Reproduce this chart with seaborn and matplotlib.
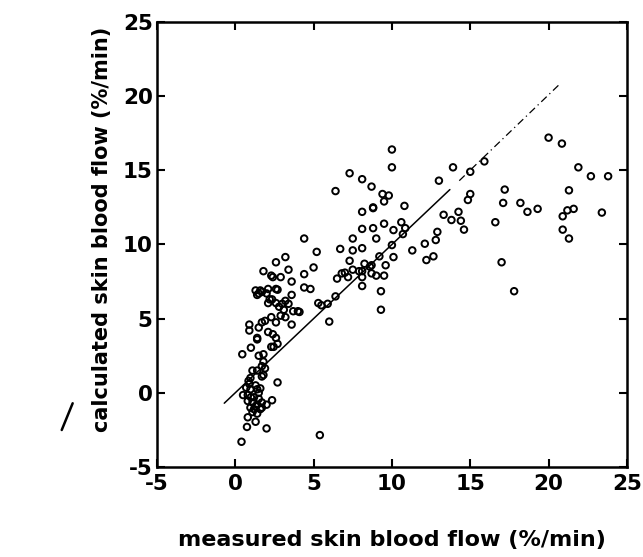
import matplotlib
matplotlib.use("Agg")
import matplotlib.pyplot as plt
import seaborn as sns
import pandas as pd
from matplotlib.lines import Line2D

# ---- data ----
measured = [
    # x > 15 region
    15.9, 20.0, 20.85, 21.9, 22.7, 23.8, 21.3, 17.2, 17.1, 18.2, 18.65, 19.3, 20.9, 21.2, 21.6, 23.4,
    16.6, 20.9, 21.3, 17.0, 17.8,
    # 10-15 region
    15.0, 15.0, 14.85, 13.0, 13.9, 13.3, 14.25, 13.8, 14.4, 14.6, 12.9, 12.8, 12.1, 12.2, 12.65,
    11.3, 10.8, 10.6, 10.85, 10.7, 10.1, 10.0, 10.1, 10.0, 10.0,
    # 5-10 region
    9.8, 9.4, 9.5, 9.5, 8.8, 8.8, 9.0, 9.2, 9.6, 8.7, 8.7, 9.0, 9.5, 9.3, 9.3,
    8.7, 8.1, 8.1, 8.1, 8.1, 8.25, 8.1, 8.1, 8.6, 7.3, 7.5, 7.5, 8.1, 6.7, 7.3, 7.5, 7.2,
    6.8, 6.5, 6.4, 6.4, 6.0, 5.9, 5.5, 5.3, 4.4, 5.2, 5.0, 4.4, 4.4, 4.8, 5.4, 7.9, 7.0, 8.8,
    # 0-5 region
    3.2, 2.6, 3.4, 2.9, 3.6, 1.8, 2.3, 2.4, 2.1, 1.7, 1.3, 1.5, 2.0, 2.6, 2.7, 2.35, 2.1, 2.6,
    3.2, 3.6, 3.4, 3.1, 3.7, 4.0, 4.1, 2.9, 3.2, 3.6, 2.3, 1.9, 1.7, 2.6, 0.9, 0.9, 1.5, 1.4,
    2.1, 2.4, 2.6, 2.45, 2.7, 0.45, 1.0, 1.4, 2.3, 1.5, 1.8, 1.8, 1.7, 1.9, 1.8, 1.4, 1.1,
    0.97, 0.85, 2.7, 0.7, 0.97, 1.4, 0.5, 0.8, 1.5, 0.8, 1.1, 1.4, 1.7, 2.0, 2.35, 0.97, 1.2,
    1.6, 0.8, 1.3, 0.75, 2.0, 0.4, 1.2, 1.3, 1.0, 1.5, 1.7, 0.9, 1.1, 1.4, 1.6, 1.3, 1.4, 1.6,
    2.2, 2.8, 3.0, 1.7,
]
calculated = [
    15.6, 17.2, 16.8, 15.2, 14.6, 14.6, 13.65, 13.7, 12.8, 12.8, 12.2, 12.4, 11.9, 12.3, 12.4, 12.15,
    11.5, 11.0, 10.4, 8.8, 6.85,
    14.9, 13.4, 13.0, 14.3, 15.2, 12.0, 12.2, 11.65, 11.6, 11.0, 10.85, 10.3, 10.05, 8.95, 9.2,
    9.6, 12.6, 11.5, 11.1, 10.7, 10.97, 9.96, 9.15, 16.4, 15.2,
    13.3, 13.4, 12.9, 11.4, 12.45, 11.1, 10.4, 9.2, 8.6, 8.6, 8.05, 7.9, 7.9, 6.85, 5.6,
    13.9, 14.4, 12.2, 11.05, 9.75, 8.7, 7.8, 7.2, 8.5, 14.8, 10.4, 9.6, 8.2, 9.7, 8.9, 8.3, 7.8,
    8.05, 7.7, 6.5, 13.6, 4.8, 6.0, 5.9, 6.05, 10.4, 9.5, 8.45, 8.0, 7.1, 7.0, -2.85, 8.2, 8.1, 12.5,
    9.15, 8.8, 8.3, 7.8, 7.5, 8.2, 7.9, 7.8, 7.0, 6.8, 6.9, 6.7, 6.7, 7.0, 6.95, 6.3, 6.05, 6.05,
    6.2, 6.6, 6.0, 5.6, 5.5, 5.5, 5.45, 5.2, 5.1, 4.6, 5.1, 4.85, 4.75, 4.75, 4.6, 4.2, 4.4, 3.7,
    4.1, 3.95, 3.7, 3.1, 3.3, 2.6, 3.04, 3.6, 3.1, 2.5, 2.6, 2.1, 1.8, 1.65, 1.2, 1.5, 1.5,
    1.0, 0.8, 0.7, 0.35, 0.24, 0.24, -0.15, -0.15, 0.0, -0.55, -0.65, -0.8, -0.65, -0.8, -0.5, -1.0, -1.1,
    -1.1, -1.65, -1.95, -2.3, -2.4, -3.3, -0.3, 0.5, -0.3, -0.4, -1.0, 0.6, -1.3, -1.4, 0.3, -0.9, 6.6, 6.9,
    6.3, 5.8, 6.0, 1.1,
]

# identity (regression) line, drawn in a solid and a broken part
line_solid_x = [-0.7, 13.7]
line_solid_y = [-0.7, 13.7]
line_dash_x = [14.3, 20.7]
line_dash_y = [14.3, 20.8]

x_ticks = [-5, 0, 5, 10, 15, 20, 25]
y_ticks = [-5, 0, 5, 10, 15, 20, 25]
x_label = "measured skin blood flow (%/min)"
y_label = "calculated skin blood flow (%/min)"

sns.set_style("ticks")
plt.rcParams["font.family"] = ["DejaVu Sans"]
plt.rcParams["text.color"] = "black"
plt.rcParams["axes.labelcolor"] = "black"
plt.rcParams["xtick.color"] = "black"
plt.rcParams["ytick.color"] = "black"

fig = plt.figure(figsize=(6.43, 5.57), dpi=100)
ax = fig.add_axes([0.244, 0.1616, 0.731, 0.799])

df = pd.DataFrame({"measured": measured, "calculated": calculated})
sns.scatterplot(data=df, x="measured", y="calculated", ax=ax, marker="o", s=22,
                facecolors="none", edgecolor="black", linewidth=1.4, legend=False)
sns.lineplot(x=line_solid_x, y=line_solid_y, ax=ax, color="black", linewidth=1.1, estimator=None)
sns.lineplot(x=line_dash_x, y=line_dash_y, ax=ax, color="black", linewidth=0.9,
             estimator=None, linestyle=(0, (6, 3, 1, 3)))

ax.set_xlim(-5, 25)
ax.set_ylim(-5, 25)
ax.set_xticks(x_ticks)
ax.set_yticks(y_ticks)
ax.set_xticklabels([str(t) for t in x_ticks])
ax.set_yticklabels([str(t) for t in y_ticks])
ax.set_xticks([0], minor=True)
ax.set_yticks([0], minor=True)
ax.tick_params(which="major", direction="in", length=6, width=1.5,
               top=True, right=True, labelsize=15.5, colors="black")
ax.tick_params(axis="x", which="major", pad=5)
ax.tick_params(axis="y", which="major", pad=3)
ax.tick_params(which="minor", direction="in", length=16, width=1.8,
               top=False, right=False, colors="black")
for lab in ax.get_xticklabels() + ax.get_yticklabels():
    lab.set_fontweight("bold")
for sp in ax.spines.values():
    sp.set_linewidth(1.8)
    sp.set_color("black")

ax.set_xlabel(x_label, fontsize=16, fontweight="bold", color="black")
ax.set_ylabel(y_label, fontsize=15, fontweight="bold", color="black")
ax.xaxis.set_label_coords(0.5, -0.142)
ax.yaxis.set_label_coords(-0.095, 0.535)

# small stray stroke at the left margin of the scanned original
fig.add_artist(Line2D([0.096, 0.113], [0.228, 0.276], color="black", linewidth=1.8,
                      transform=fig.transFigure))

fig.savefig("out.png", dpi=100)
